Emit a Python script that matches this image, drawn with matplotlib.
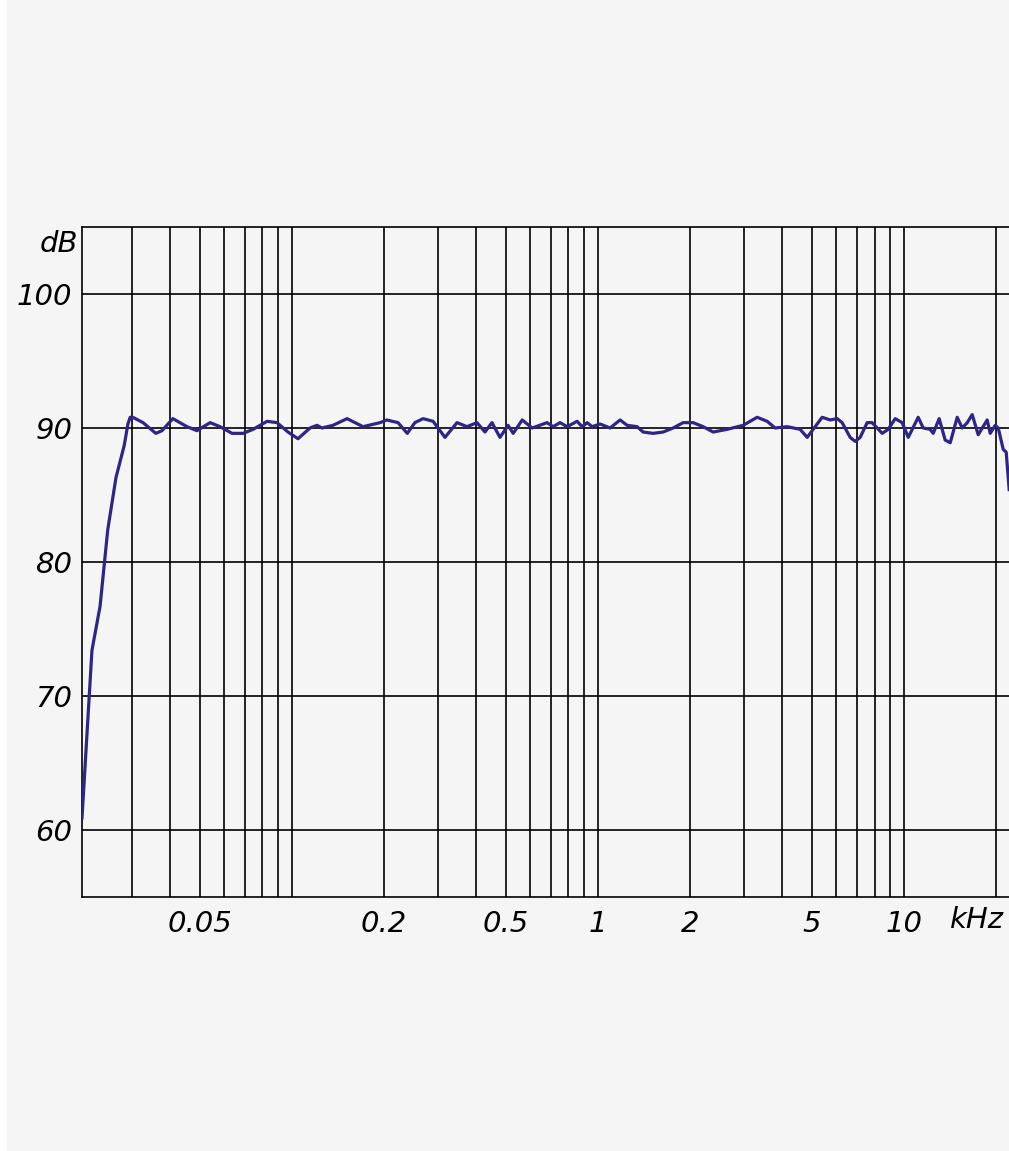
import numpy as np
import matplotlib.pyplot as plt
from matplotlib.patches import Rectangle

# Data (frequency in kHz, level in dB)
freq = [0.0206, 0.0222, 0.0236, 0.0250, 0.0266, 0.0283, 0.0291, 0.0296, 0.0302, 0.0326,
        0.0359, 0.0376, 0.0408, 0.0454, 0.0489, 0.0540, 0.0582, 0.0637, 0.0692, 0.0746,
        0.0829, 0.0893, 0.0970, 0.1046, 0.1145, 0.1207, 0.1253, 0.1361, 0.1513, 0.1706,
        0.194, 0.204, 0.222, 0.238, 0.252, 0.268, 0.289, 0.316, 0.346, 0.373,
        0.402, 0.427, 0.450, 0.478, 0.508, 0.528, 0.565, 0.609, 0.681, 0.713,
        0.751, 0.792, 0.854, 0.887, 0.921, 0.956, 1.015, 1.094, 1.180, 1.244,
        1.341, 1.403, 1.512, 1.631, 1.758, 1.896, 2.044, 2.204, 2.376, 2.640,
        2.978, 3.308, 3.567, 3.788, 4.146, 4.572, 4.820, 5.042, 5.395, 5.731,
        6.040, 6.272, 6.660, 6.916, 7.181, 7.569, 7.860, 8.161, 8.475, 8.867,
        9.346, 9.851, 10.31, 11.11, 11.54, 12.16, 12.44, 13.01, 13.61, 14.14,
        14.90, 15.47, 16.07, 16.68, 17.45, 18.67, 19.10, 19.83, 20.29, 21.07,
        21.54, 22.03]
level = [60.9, 73.4, 76.7, 82.4, 86.3, 88.7, 90.3, 90.8, 90.8, 90.4,
         89.6, 89.8, 90.7, 90.1, 89.8, 90.4, 90.1, 89.6, 89.6, 89.9,
         90.5, 90.4, 89.7, 89.2, 90.0, 90.2, 90.0, 90.2, 90.7, 90.1,
         90.4, 90.6, 90.4, 89.6, 90.4, 90.7, 90.5, 89.3, 90.4, 90.1,
         90.4, 89.7, 90.4, 89.3, 90.2, 89.6, 90.6, 90.0, 90.4, 90.1,
         90.4, 90.1, 90.5, 90.1, 90.4, 90.1, 90.3, 90.0, 90.6, 90.2,
         90.1, 89.7, 89.6, 89.7, 90.0, 90.4, 90.4, 90.1, 89.7, 89.9,
         90.2, 90.8, 90.5, 90.0, 90.1, 89.9, 89.3, 89.9, 90.8, 90.6,
         90.7, 90.4, 89.3, 89.0, 89.3, 90.4, 90.4, 90.0, 89.6, 89.9,
         90.7, 90.4, 89.3, 90.8, 90.0, 89.9, 89.6, 90.7, 89.1, 88.9,
         90.8, 90.0, 90.4, 91.0, 89.5, 90.6, 89.6, 90.2, 90.0, 88.4,
         88.2, 85.4]

grid_freqs = [0.03, 0.04, 0.05, 0.06, 0.07, 0.08, 0.09, 0.1,
              0.2, 0.3, 0.4, 0.5, 0.6, 0.7, 0.8, 0.9, 1,
              2, 3, 4, 5, 6, 7, 8, 9, 10, 20]
xtick_vals = [0.05, 0.2, 0.5, 1, 2, 5, 10]
xtick_labels = ['0.05', '0.2', '0.5', '1', '2', '5', '10']
ytick_vals = [60, 70, 80, 90, 100]

fig = plt.figure(figsize=(10.09, 11.51), dpi=100, facecolor='white')
fig.patches.append(Rectangle((7 / 1009, 0), 1, 1, transform=fig.transFigure,
                             facecolor='#f5f5f5', edgecolor='none', zorder=-10))

ax = fig.add_axes([82 / 1009, 254 / 1151, 927 / 1009, 670 / 1151])
ax.set_facecolor('#f5f5f5')
ax.set_xscale('log')
ax.set_xlim(0.0206, 22.0)
ax.set_ylim(55, 105)

for f in grid_freqs:
    ax.axvline(f, color='black', lw=1.2, zorder=1)
for y in ytick_vals:
    ax.axhline(y, color='black', lw=1.2, zorder=1)

ax.plot(freq, level, color='#2d2687', lw=2.3, zorder=3)

for s in ['left', 'top', 'bottom']:
    ax.spines[s].set_linewidth(1.2)
ax.spines['right'].set_visible(False)

font = dict(fontsize=21, fontstyle='italic', family='DejaVu Sans')
ax.set_xticks(xtick_vals)
ax.set_xticklabels(xtick_labels, **font)
ax.xaxis.set_minor_locator(plt.NullLocator())
ax.set_yticks(ytick_vals)
ax.set_yticklabels([str(v) for v in ytick_vals], **font)
ax.tick_params(axis='both', length=0)
ax.tick_params(axis='x', pad=9)
ax.tick_params(axis='y', pad=7)

ax.text(-0.004, 0.975, 'dB', transform=ax.transAxes, ha='right', va='center', **font)
ax.text(0.965, -0.035, 'kHz', transform=ax.transAxes, ha='center', va='center', **font)

fig.savefig('out.png', dpi=100, facecolor=fig.get_facecolor())
